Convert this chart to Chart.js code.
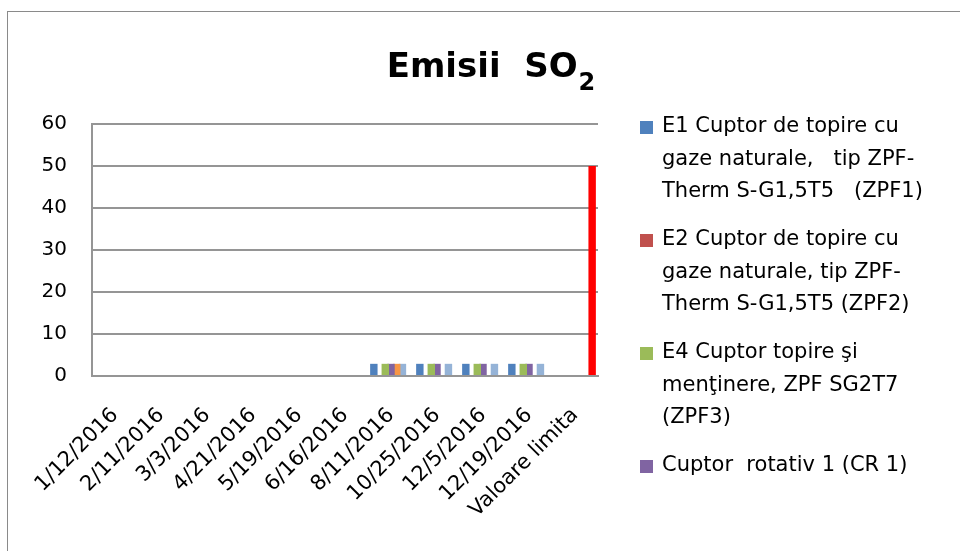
<!DOCTYPE html>
<html>
<head>
<meta charset="utf-8">
<script src="https://cdn.jsdelivr.net/npm/chart.js@4"></script>
<style>
  html, body { margin: 0; padding: 0; background: #fff; overflow: hidden; }
  #frame {
    position: absolute; left: 7px; top: 11px;
    width: 952px; height: 539px;
    border-left: 1px solid #8a8a8a; border-top: 1px solid #8a8a8a;
  }
  canvas { display: block; }
</style>
</head>
<body>
<div id="frame"><canvas id="so2Chart" width="952" height="539"></canvas></div>
<script>
const categories = ["1/12/2016", "2/11/2016", "3/3/2016", "4/21/2016", "5/19/2016", "6/16/2016",
  "8/11/2016", "10/25/2016", "12/5/2016", "12/19/2016", "Valoare limita"];

const e1Values = [null, null, null, null, null, null, 2.9, 2.9, 2.9, 2.9, null];
const e2Values = [null, null, null, null, null, null, 0, 0, 0, 0, null];
const e4Values = [null, null, null, null, null, null, 2.9, 2.9, 2.9, 2.9, null];
const cr1Values = [null, null, null, null, null, null, 2.9, 2.9, 2.9, 2.9, null];
const cr2Values = [null, null, null, null, null, null, 2.9, null, null, null, null];
const cr3Values = [null, null, null, null, null, null, 2.9, 2.9, 2.9, 2.9, null];
const limitValues = [null, null, null, null, null, null, null, null, null, null, 50];

const seriesNames = [
  "E1 Cuptor de topire cu gaze naturale,   tip ZPF-Therm S-G1,5T5   (ZPF1)",
  "E2 Cuptor de topire cu gaze naturale, tip ZPF-Therm S-G1,5T5 (ZPF2)",
  "E4 Cuptor topire şi menţinere, ZPF SG2T7 (ZPF3)",
  "Cuptor  rotativ 1 (CR 1)",
  "Cuptor rotativ 2 (CR 2)",
  "Cuptor rotativ 3 (CR 3)",
  "Valoare limita",
];
// legend text wrapped the way it shows in the picture
const legendLines = [
  ["E1 Cuptor de topire cu", "gaze naturale,   tip ZPF-", "Therm S-G1,5T5   (ZPF1)"],
  ["E2 Cuptor de topire cu", "gaze naturale, tip ZPF-", "Therm S-G1,5T5 (ZPF2)"],
  ["E4 Cuptor topire şi", "menţinere, ZPF SG2T7", "(ZPF3)"],
  ["Cuptor  rotativ 1 (CR 1)"],
];
const seriesColors = ["#4F81BD", "#C0504D", "#9BBB59", "#8064A2", "#F79646", "#95B3D7", "#FF0000"];

const titleText = "Emisii  SO";
const titleSub = "2";
const yMax = 60;
const yStep = 10;

const FONT = '"DejaVu Sans", sans-serif';
const GRID = "#959595";

const titlePlugin = {
  id: "so2Title",
  afterDraw(chart) {
    const ctx = chart.ctx;
    ctx.save();
    ctx.fillStyle = "#000";
    ctx.textBaseline = "alphabetic";
    ctx.textAlign = "left";
    ctx.font = "bold 34px " + FONT;
    const w1 = ctx.measureText(titleText).width;
    ctx.font = "bold 24px " + FONT;
    const w2 = ctx.measureText(titleSub).width;
    const x0 = 483 - (w1 + 1 + w2) / 2;
    ctx.font = "bold 34px " + FONT;
    ctx.fillText(titleText, x0, 65);
    ctx.font = "bold 24px " + FONT;
    ctx.fillText(titleSub, x0 + w1 + 1, 78);
    ctx.restore();
  },
};

const legendPlugin = {
  id: "wrappedLegend",
  afterDraw(chart) {
    const ctx = chart.ctx;
    ctx.save();
    ctx.font = "21px " + FONT;
    ctx.textBaseline = "middle";
    ctx.textAlign = "left";
    let y = 115;
    legendLines.forEach((lines, i) => {
      ctx.fillStyle = chart.data.datasets[i].backgroundColor;
      ctx.fillRect(632, y - 6, 13, 13);
      ctx.fillStyle = "#000";
      lines.forEach((line, k) => ctx.fillText(line, 654, y + k * 32.5));
      y += lines.length * 32.5 + 15.5;
    });
    ctx.restore();
  },
};

const allValues = [e1Values, e2Values, e4Values, cr1Values, cr2Values, cr3Values, limitValues];

new Chart(document.getElementById("so2Chart"), {
  type: "bar",
  data: {
    labels: categories,
    datasets: allValues.map((vals, i) => ({
      label: seriesNames[i],
      data: vals,
      backgroundColor: seriesColors[i],
      borderWidth: 0,
      categoryPercentage: 0.87,
      barPercentage: 1.3,
    })),
  },
  options: {
    responsive: false,
    animation: false,
    layout: { padding: { top: 112, right: 362, left: 0, bottom: 0 } },
    plugins: { legend: { display: false }, title: { display: false }, tooltip: { enabled: false } },
    scales: {
      x: {
        afterFit: (scale) => { scale.height = 175; },
        grid: { display: false, drawTicks: false },
        border: { display: true, color: GRID, width: 2 },
        ticks: {
          color: "#000",
          font: { family: FONT, size: 21 },
          minRotation: 45,
          maxRotation: 45,
          autoSkip: false,
          padding: 27,
        },
      },
      y: {
        min: 0,
        max: yMax,
        afterFit: (scale) => { scale.width = 84; },
        grid: { color: GRID, lineWidth: 2, drawTicks: false },
        border: { display: true, color: GRID, width: 2 },
        ticks: {
          stepSize: yStep,
          color: "#000",
          font: { family: FONT, size: 20 },
          padding: 25,
        },
      },
    },
  },
  plugins: [titlePlugin, legendPlugin],
});
</script>
</body>
</html>
